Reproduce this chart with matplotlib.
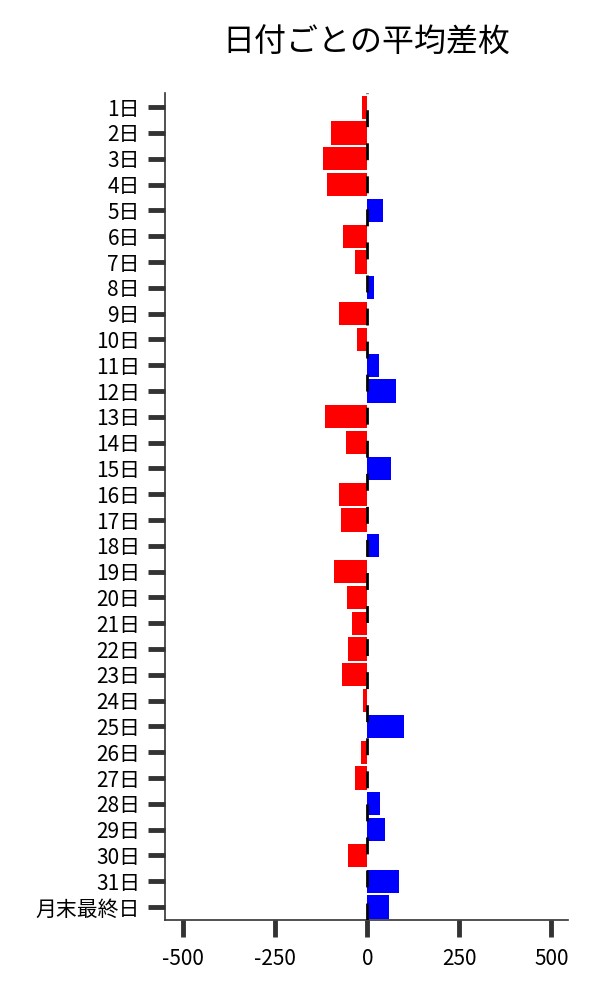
import matplotlib
matplotlib.use("Agg")
import matplotlib.pyplot as plt
import numpy as np

plt.rcParams['font.family'] = ['Noto Sans CJK JP', 'DejaVu Sans']

# data
days = [f"{d}日" for d in range(1, 32)] + ["月末最終日"]
avg_diff = [-14, -100, -120, -109, 43, -65, -33, 18, -76, -27,
            32, 78, -114, -57, 64, -76, -71, 32, -90, -54,
            -43, -52, -68, -11, 100, -16, -33, 35, 48, -52,
            86, 59]
xticks = [-500, -250, 0, 250, 500]

fig = plt.figure(figsize=(6, 10), dpi=100)
ax = fig.add_axes([0.275, 0.08, 0.672, 0.827])

vals = np.array(avg_diff)
colors = np.where(vals >= 0, "#0000ff", "#ff0000")
ypos = np.arange(len(days))
ax.barh(ypos, vals, height=0.9, color=colors, zorder=2)

# dashed zero line
ax.axvline(0, color="black", lw=2, linestyle=(0, (6.1, 5.8)), zorder=3)

ax.set_ylim(len(days) - 0.5, -0.55)
ax.set_xlim(-550, 546)
ax.set_yticks(ypos)
ax.set_yticklabels(days)
ax.set_xticks(xticks)
ax.set_xticklabels([str(t) for t in xticks])

for s in ["top", "right"]:
    ax.spines[s].set_visible(False)
for s in ["left", "bottom"]:
    ax.spines[s].set_color("#333333")
    ax.spines[s].set_linewidth(1.2)

ax.tick_params(axis="both", length=12, width=3.5, color="#333333", labelsize=15)
ax.tick_params(axis="y", pad=6)
ax.tick_params(axis="x", pad=8)

ax.set_title("日付ごとの平均差枚", fontsize=23, pad=30)

fig.savefig("out.png")
